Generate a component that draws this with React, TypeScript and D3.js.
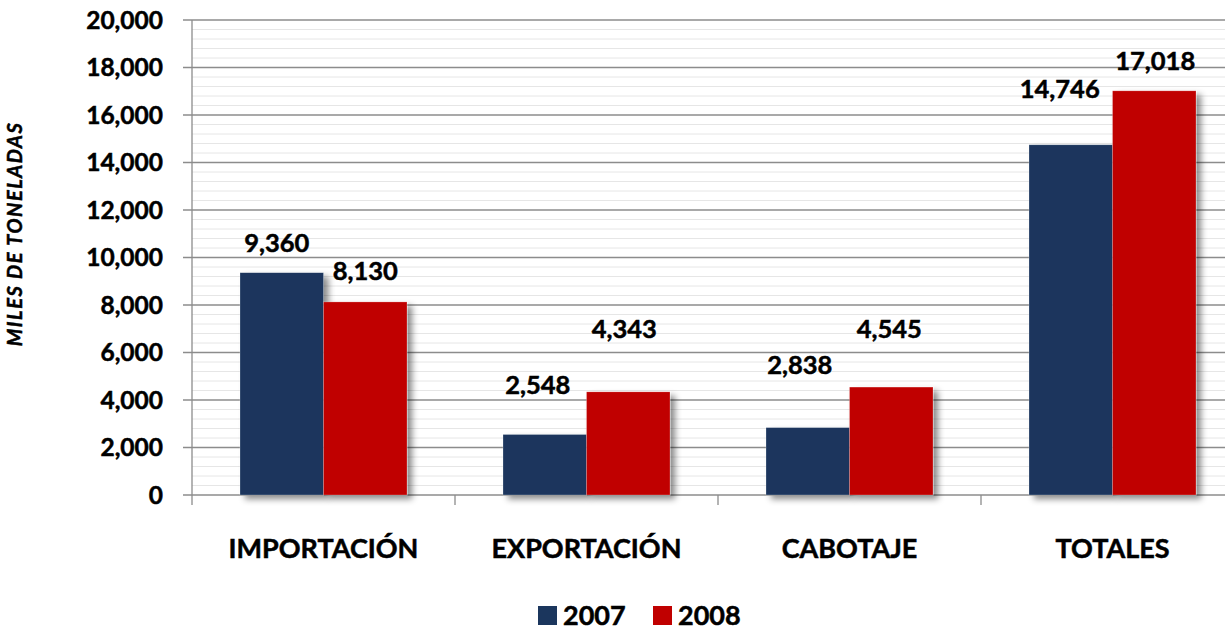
import * as d3 from 'd3';

const categories = ['IMPORTACIÓN', 'EXPORTACIÓN', 'CABOTAJE', 'TOTALES'];
const years = ['2007', '2008'];
const values2007 = [9360, 2548, 2838, 14746];
const values2008 = [8130, 4343, 4545, 17018];
const yTicks = [0, 2000, 4000, 6000, 8000, 10000, 12000, 14000, 16000, 18000, 20000];

// hand placed label nudges (px), as in the original sheet
const liftByYear = [[21, 40, 54, 47], [22, 54, 49, 21]];
const dxByYear = [[-5, -7, -8, -11], [0, -4, -2, 1]];

const colors = ['#1b365d', '#c00000'];
const font = 'Lato, "Open Sans", sans-serif';
// Lato bold is a bit lighter than the original's face, so thicken a touch
const heavy = { stroke: '#000', strokeWidth: 0.5 };

const W = 1225;
const H = 632;
const left = 192;
const top = 20;
const bottom = 495;
const band = 263;

const App = () => {
  const x0 = d3.scaleBand<string>()
    .domain(categories)
    .range([left, left + band * categories.length])
    .paddingInner(0)
    .paddingOuter(0);

  const x1 = d3.scaleBand<string>()
    .domain(years)
    .range([48, band - 48])
    .padding(0);

  const y = d3.scaleLinear().domain([0, 20000]).range([bottom, top]);
  const minor = d3.range(0, 20001, 400).filter(v => v % 2000 !== 0);
  const series = [values2007, values2008];

  return (
    <svg width={W} height={H} style={{ position: 'absolute', left: 0, top: 0, background: '#fff' }}>
      <defs>
        <filter id="shadow" x="-20%" y="-20%" width="150%" height="150%">
          <feDropShadow dx="5" dy="4" stdDeviation="3" floodColor="#000" floodOpacity="0.45" />
        </filter>
      </defs>

      {minor.map(v => (
        <line key={'m' + v} x1={left} x2={W} y1={y(v)} y2={y(v)} stroke="#e6e6e6" strokeWidth={1} />
      ))}
      {yTicks.map(v => (
        <g key={v}>
          <line x1={left - 9} x2={W} y1={y(v)} y2={y(v)} stroke="#8c8c8c" strokeWidth={1.3} />
          <text x={163} y={y(v)} dy="0.36em" textAnchor="end" fontFamily={font} fontWeight={700} fontSize={24.5} fill="#000" {...heavy}>
            {d3.format(',')(v)}
          </text>
        </g>
      ))}

      {categories.map((c, i) => (
        <g key={c}>
          {series.map((vals, s) => (
            <rect
              key={years[s]}
              x={(x0(c) as number) + (x1(years[s]) as number)}
              y={y(vals[i])}
              width={x1.bandwidth()}
              height={bottom - y(vals[i])}
              fill={colors[s]}
              stroke="#ffffff"
              strokeOpacity={0.4}
              strokeWidth={0.6}
              filter="url(#shadow)"
            />
          ))}
        </g>
      ))}

      <line x1={left} x2={left} y1={top} y2={bottom + 10} stroke="#8c8c8c" strokeWidth={1.3} />
      {categories.map(c => (
        <line key={'t' + c} x1={(x0(c) as number) + band} x2={(x0(c) as number) + band} y1={bottom} y2={bottom + 10} stroke="#8c8c8c" strokeWidth={1.3} />
      ))}

      {categories.map((c, i) =>
        series.map((vals, s) => (
          <text
            key={c + s}
            x={(x0(c) as number) + (x1(years[s]) as number) + x1.bandwidth() / 2 + dxByYear[s][i]}
            y={y(vals[i]) - liftByYear[s][i]}
            textAnchor="middle"
            fontFamily={font}
            fontWeight={700}
            fontSize={25.5}
            fill="#000"
            {...heavy}
          >
            {d3.format(',')(vals[i])}
          </text>
        ))
      )}

      {categories.map(c => (
        <text key={'l' + c} x={(x0(c) as number) + band / 2} y={558} textAnchor="middle" fontFamily={font} fontWeight={700} fontSize={27} fill="#000" {...heavy}>
          {c}
        </text>
      ))}

      <text
        transform={`translate(22, 234) rotate(-90)`}
        textAnchor="middle"
        fontFamily={font}
        fontWeight={700}
        fontStyle="italic"
        fontSize={20}
        letterSpacing={1.5}
        fill="#000"
        {...heavy}
      >
        MILES DE TONELADAS
      </text>

      {years.map((yr, s) => (
        <g key={yr} transform={`translate(${538 + s * 115}, 0)`}>
          <rect x={0} y={606} width={19} height={19} fill={colors[s]} />
          <text x={25} y={625} fontFamily={font} fontWeight={700} fontSize={27} fill="#000" {...heavy}>{yr}</text>
        </g>
      ))}
    </svg>
  );
};

export default App;
